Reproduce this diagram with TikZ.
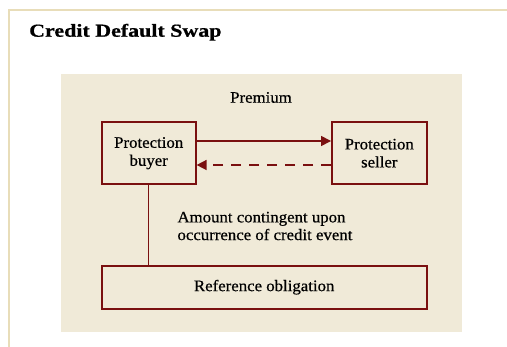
\documentclass[tikz,border=0pt]{standalone}
\usepackage{fontspec}
\setmainfont[FakeStretch=1.05,FakeBold=0.6]{Liberation Serif}
\newfontfamily\titlefont[FakeStretch=1.2,FakeBold=0.8]{Liberation Serif}
\usetikzlibrary{arrows.meta}
\definecolor{frameline}{RGB}{232,221,185}
\definecolor{panel}{RGB}{240,234,216}
\definecolor{darkred}{RGB}{122,16,16}
\tikzset{
  partybox/.style={draw=darkred, line width=1.8pt, fill=panel, align=center, inner sep=0pt,
    font=\fontsize{16}{18}\selectfont, text=black},
  flow/.style={draw=darkred, line width=1.5pt},
  tip/.style={-{Triangle[length=10pt,width=10pt]}},
  lbl/.style={inner sep=0pt, font=\fontsize{16}{17.7}\selectfont, text=black}
}
\begin{document}
\begin{tikzpicture}[x=1pt,y=-1pt]
\useasboundingbox (0,0) rectangle (507,347);
\fill[white] (0,0) rectangle (507,347);
% frame lines
\draw[frameline, line width=2pt] (9,347) -- (9,10) -- (507,10);
% panel
\fill[panel] (61,74) rectangle (462,332);
% title
\node[anchor=base west, inner sep=0pt, font=\titlefont\bfseries\fontsize{18.3}{20}\selectfont] (title) at (29,36.7) {Credit Default Swap};
% boxes
\node[partybox, minimum width=94pt, minimum height=61.7pt] (buyer) at (148.7,153.2) {Protection\\buyer};
\node[partybox, minimum width=94.7pt, minimum height=61.7pt] (seller) at (379.3,153.2) {Protection\\seller};
\node[partybox, minimum width=325pt, minimum height=43pt] (ref) at (264.2,287.2) {Reference obligation};
% labels
\node[lbl, anchor=base] (premium) at (261,102.7) {Premium};
\node[lbl, anchor=west, align=left] (amount) at (177.3,226) {Amount contingent upon\\occurrence of credit event};
% connectors
\draw[flow, tip] ([yshift=12.2pt]buyer.east) -- ([yshift=12.2pt]seller.west);
\draw[flow, tip, dash pattern=on 10pt off 8pt] ([yshift=-11.8pt]seller.west) -- ([yshift=-11.8pt]buyer.east);
\draw[flow] (buyer.south) -- (buyer.south |- ref.north);
\end{tikzpicture}
\end{document}
